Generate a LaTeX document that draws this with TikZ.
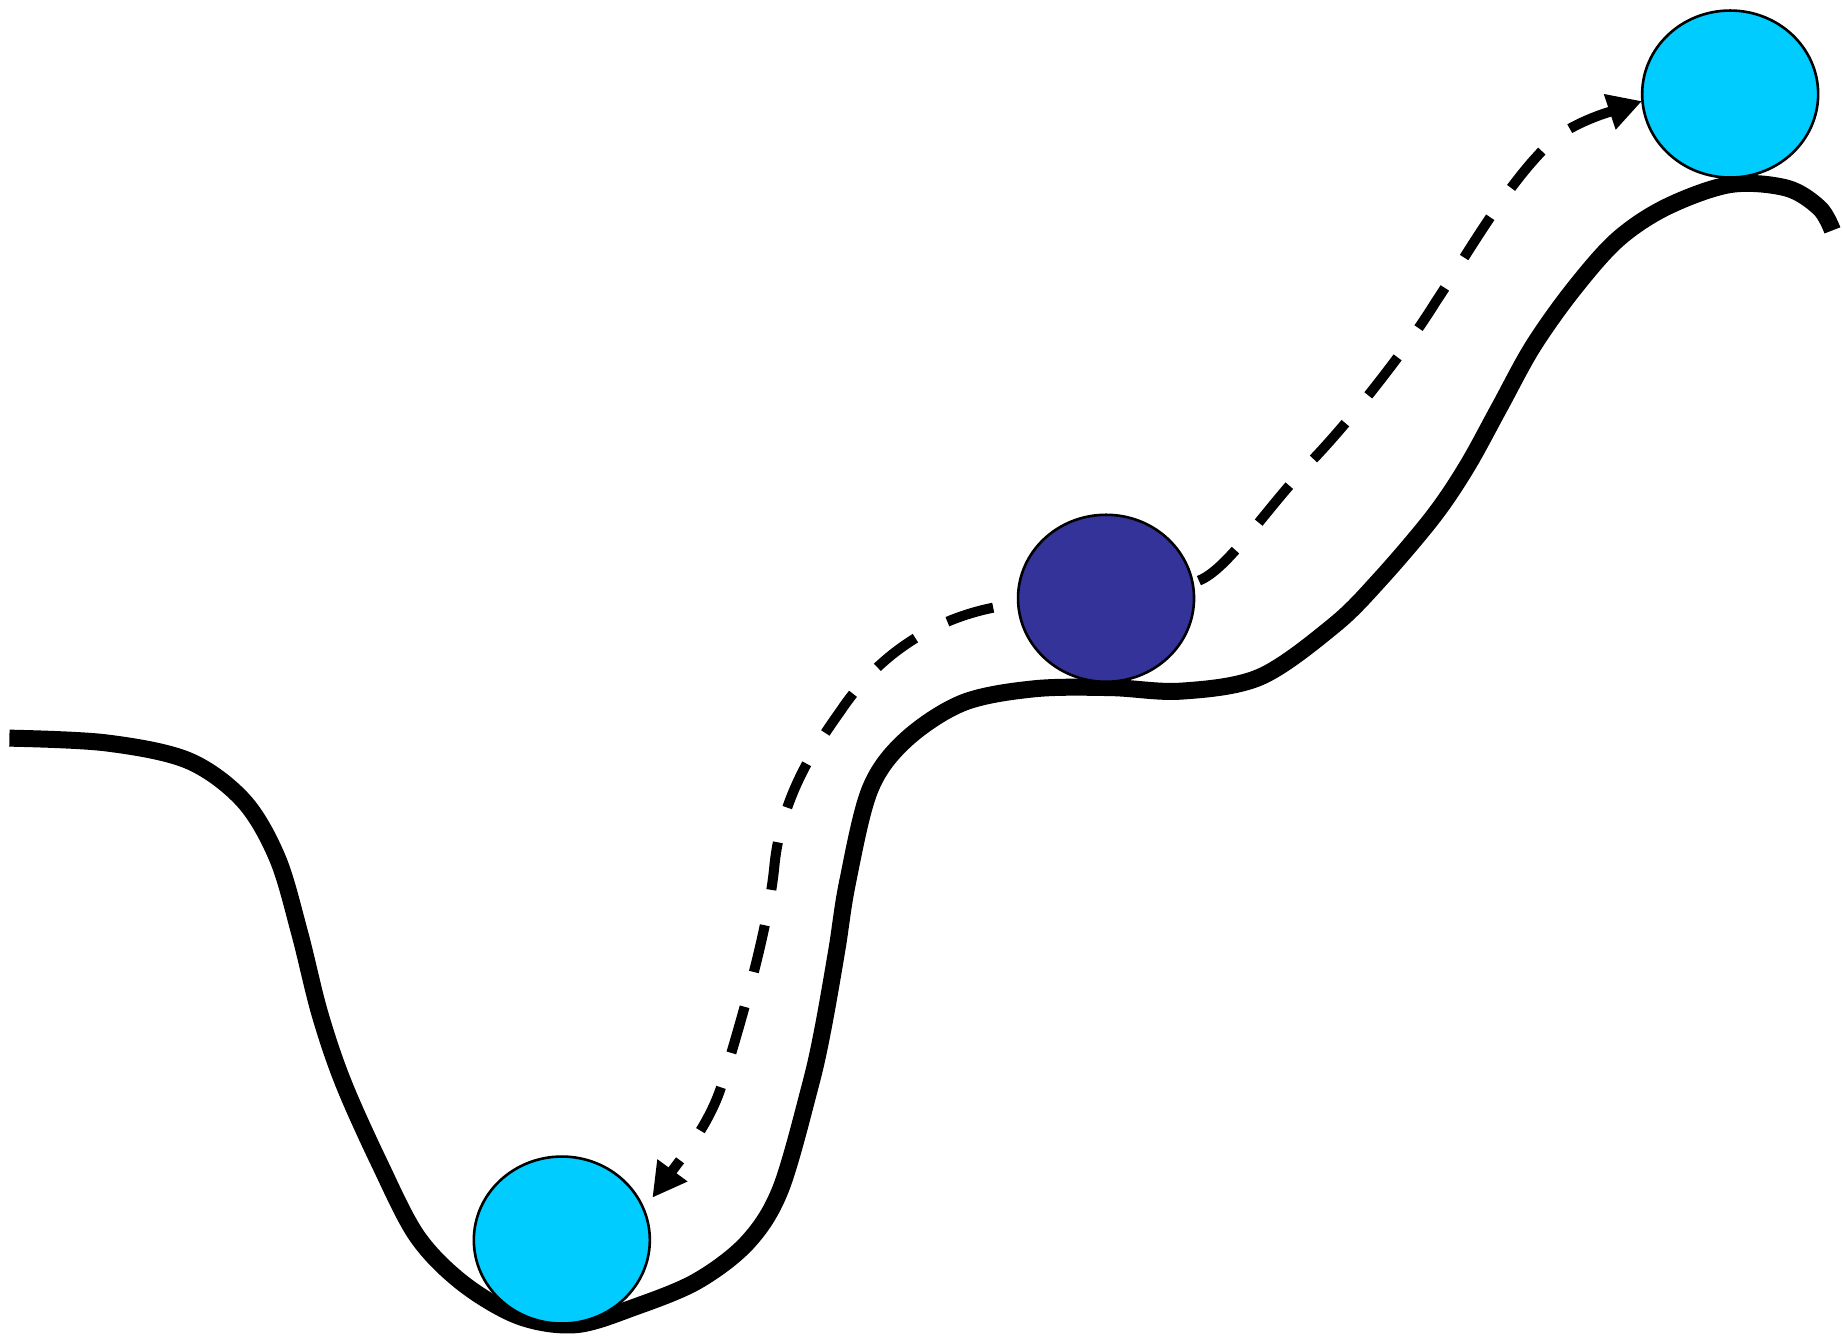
\documentclass[tikz,border=0pt]{standalone}
\usetikzlibrary{shapes.geometric,arrows.meta}
\definecolor{ballcyan}{HTML}{00CCFF}
\definecolor{ballblue}{HTML}{333399}
\begin{document}
\begin{tikzpicture}[x=1.1754pt,y=-1.1754pt,
  ball/.style={ellipse, draw=black, line width=2.6pt, minimum width=176pt, minimum height=167pt, inner sep=0pt},
  land/.style={line width=17pt, line join=round},
  flow/.style={line width=10pt, dash pattern=on 48pt off 36pt, -{Triangle[length=34pt,width=35pt]}}]
\useasboundingbox (0,0) rectangle (1568,1136);
% landscape
\draw[land] plot[smooth, tension=0.55] coordinates {
 (8,628) (90,632) (160,647) (207,681) (236,730) (255,794) (272,862) (292,921)
 (323,990) (355,1052) (394,1092) (442,1120) (490,1127) (540,1112) (593,1090)
 (636,1057) (664,1012) (689,925) (700,876) (712,808) (721,751) (740,672)
 (770,630) (819,598) (880,586) (945,585) (1005,588) (1072,576) (1135,532)
 (1174,493) (1219,440) (1248,397) (1276,346) (1304,295) (1338,247) (1376,204)
 (1418,176) (1472,157) (1520,160) (1548,177) (1559,196)};
% balls
\node[ball, fill=ballcyan] (low) at (478,1055) {};
\node[ball, fill=ballblue] (mid) at (941,509) {};
\node[ball, fill=ballcyan] (high) at (1472,80) {};
% arrow ends
\coordinate (dstart) at (845,517);
\coordinate (dend) at (555,1019);
\coordinate (ustart) at (1020,494);
\coordinate (uend) at (1397,86);
% down to the low ball
\draw[flow] (dstart) .. controls (790,528) and (745,560) .. (715,605)
  .. controls (690,640) and (665,680) .. (659,735)
  .. controls (654,790) and (630,870) .. (615,920)
  .. controls (605,955) and (580,985) .. (dend);
% up to the high ball
\draw[flow] (ustart) .. controls (1045,484) and (1075,435) .. (1116,392)
  .. controls (1145,362) and (1195,300) .. (1222,256)
  .. controls (1245,222) and (1285,150) .. (1325,116)
  .. controls (1345,102) and (1370,95) .. (uend);
\end{tikzpicture}
\end{document}
